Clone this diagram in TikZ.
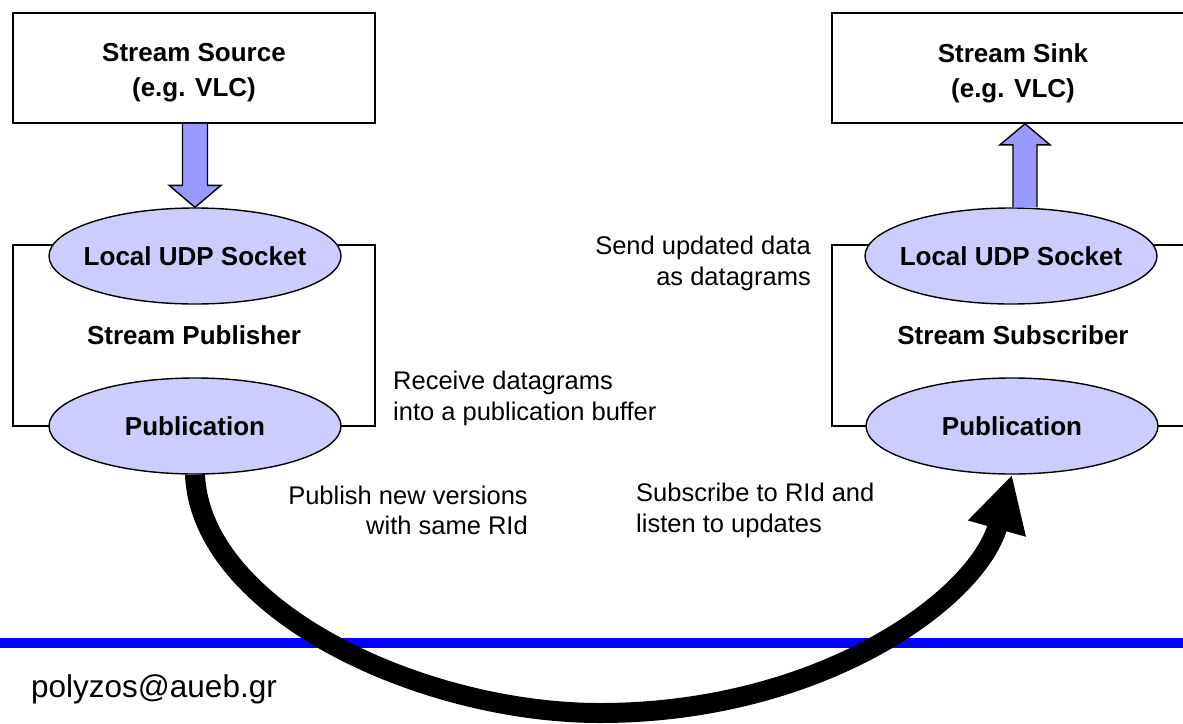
\documentclass[tikz,border=0pt]{standalone}
\usepackage{fontspec}
\setmainfont{Liberation Sans}
\usetikzlibrary{arrows.meta,shapes.geometric,calc}
\definecolor{lav}{RGB}{204,204,255}
\definecolor{blk}{RGB}{153,153,255}
\definecolor{rulecol}{RGB}{0,0,255}
\begin{document}
\begin{tikzpicture}[x=1pt,y=-1pt,
  box/.style={draw=black, line width=1.6pt, inner sep=0pt},
  title/.style={font=\bfseries\fontsize{26}{35}\selectfont, align=center, inner sep=0pt},
  sock/.style={ellipse, draw=black, line width=1.4pt, fill=lav,
    minimum width=292pt, minimum height=96pt, inner xsep=-12pt, inner ysep=0pt,
    font=\bfseries\fontsize{26}{32}\selectfont},
  note/.style={font=\fontsize{25.5}{30.5}\selectfont, inner sep=0pt},
  blockarrow/.style={draw=black, line width=1.4pt, fill=blk, line join=miter},
  flow/.style={line width=20pt, draw=black, -{Triangle[length=56pt,width=56pt]}}
]
\useasboundingbox (0,0) rectangle (1183,723);

% application boxes
\node[box, minimum width=362pt, minimum height=110pt] (src) at (194,68) {};
\node[title] (srctitle) at ($(src.center)+(0,5)$) {Stream Source\\(e.g. VLC)};
\node[box, minimum width=362pt, minimum height=110pt] (sink) at (1013,68) {};
\node[title] (sinktitle) at ($(sink.center)+(0,5)$) {Stream Sink\\(e.g. VLC)};

% publisher / subscriber frames
\node[box, title, minimum width=362pt, minimum height=181pt] (pubbox) at (194,335.5) {Stream Publisher};
\node[box, title, minimum width=362pt, minimum height=181pt] (subbox) at (1013,335.5) {Stream Subscriber};

% sockets and publications
\node[sock] (sockL) at (195,256) {Local UDP Socket};
\node[sock] (pubL) at (195,426) {Publication};
\node[sock] (sockR) at (1011,256) {Local UDP Socket};
\node[sock] (pubR) at (1012,426) {Publication};

% block arrow: source -> local socket
\coordinate (da) at (sockL.north |- src.south);
\draw[blockarrow] ($(da)+(-12.5,0)$) -- ($(sockL.north)+(-12.5,-22)$) -- ($(sockL.north)+(-26,-22)$)
  -- (sockL.north) -- ($(sockL.north)+(26,-22)$) -- ($(sockL.north)+(12.5,-22)$) -- ($(da)+(12.5,0)$);

% block arrow: local socket -> sink
\coordinate (ua) at ($(sockR.north)+(14,0)$);
\coordinate (ut) at (ua |- sink.south);
\draw[blockarrow] ($(ua)+(-12,0)$) -- ($(ut)+(-12,21)$) -- ($(ut)+(-25,21)$) -- (ut)
  -- ($(ut)+(25,21)$) -- ($(ut)+(12,21)$) -- ($(ua)+(12,0)$);

% footer rule
\draw[rulecol, line width=10.5pt] (0,643) -- (1183,643);

% publication -> subscription
\coordinate (low) at (600,713);
\draw[flow] (pubL.south) .. controls ($(pubL.south)+(6,135)$) and ($(low)+(-180,0)$) .. (low)
  .. controls ($(low)+(220,0)$) and ($(pubR.south)+(-35,125)$) .. (pubR.south);

% annotations
\node[note, anchor=east, align=right] (sendtxt) at (811,263.5) {Send updated data\\as datagrams};
\node[note, anchor=west, align=left] (recvtxt) at (393,398.6) {Receive datagrams\\into a publication buffer};
\node[note, anchor=east, align=right] (pubtxt) at (528,510.6) {Publish new versions\\with same RId};
\node[note, anchor=west, align=left] (subtxt) at (636,510.6) {Subscribe to RId and\\listen to updates};
\node[font=\fontsize{31.5}{36}\selectfont, inner sep=0pt, anchor=base west] (mail) at (31,697) {polyzos@aueb.gr};
\end{tikzpicture}
\end{document}
